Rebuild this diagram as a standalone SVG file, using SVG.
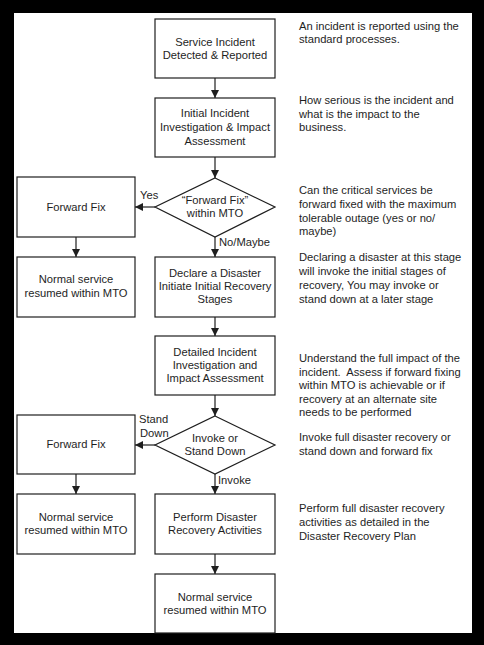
<svg xmlns="http://www.w3.org/2000/svg" width="484" height="645" viewBox="0 0 484 645">
<style>
  .box { fill: #ffffff; stroke: #1e1e1e; stroke-width: 1.2; }
  .t { font-family: "Liberation Sans", Arial, sans-serif; font-size: 11.2px; fill: #1e1e1e; }
  .c { text-anchor: middle; }
  .conn line { stroke: #1e1e1e; stroke-width: 1.2; marker-end: url(#arr); }
</style>
<defs>
  <marker id="arr" markerUnits="userSpaceOnUse" markerWidth="9" markerHeight="8" refX="8" refY="4" orient="auto">
    <path d="M0,0 L8,4 L0,8 Z" fill="#1e1e1e"/>
  </marker>
</defs>
<rect x="0" y="0" width="484" height="645" fill="#000000"/>
<rect x="14" y="13" width="458" height="620" fill="#ffffff"/>

<g id="connectors" class="conn">
  <line x1="215" y1="78" x2="215" y2="98"/>
  <line x1="215" y1="157" x2="215" y2="178"/>
  <line x1="155" y1="207" x2="135" y2="207"/>
  <line x1="215" y1="237" x2="215" y2="257"/>
  <line x1="76" y1="237" x2="76" y2="257"/>
  <line x1="215" y1="317" x2="215" y2="336"/>
  <line x1="215" y1="395" x2="215" y2="416"/>
  <line x1="155" y1="445" x2="135" y2="445"/>
  <line x1="76" y1="474" x2="76" y2="494"/>
  <line x1="215" y1="474" x2="215" y2="494"/>
  <line x1="215" y1="554" x2="215" y2="574"/>
</g>

<g id="n1">
  <rect class="box" x="155" y="19" width="120" height="59"/>
  <text class="t c" x="215" y="45.7">Service Incident</text>
  <text class="t c" x="215" y="59">Detected &amp; Reported</text>
</g>
<g id="n2">
  <rect class="box" x="155" y="98" width="120" height="59"/>
  <text class="t c" x="215" y="117.3">Initial Incident</text>
  <text class="t c" x="215" y="131.3">Investigation &amp; Impact</text>
  <text class="t c" x="215" y="145.3">Assessment</text>
</g>
<g id="d1">
  <polygon class="box" points="215,178 275,207 215,237 155,207"/>
  <text class="t c" x="215" y="204">“Forward Fix”</text>
  <text class="t c" x="215" y="217.3">within MTO</text>
</g>
<g id="ff1">
  <rect class="box" x="17" y="177" width="118" height="60"/>
  <text class="t c" x="76" y="211">Forward Fix</text>
</g>
<g id="ns1">
  <rect class="box" x="17" y="257" width="118" height="60"/>
  <text class="t c" x="76" y="283.3">Normal service</text>
  <text class="t c" x="76" y="296.7">resumed within MTO</text>
</g>
<g id="n3">
  <rect class="box" x="155" y="257" width="120" height="60"/>
  <text class="t c" x="215" y="276.7">Declare a Disaster</text>
  <text class="t c" x="215" y="290">Initiate Initial Recovery</text>
  <text class="t c" x="215" y="303.3">Stages</text>
</g>
<g id="n4">
  <rect class="box" x="155" y="336" width="120" height="59"/>
  <text class="t c" x="215" y="355.7">Detailed Incident</text>
  <text class="t c" x="215" y="369">Investigation and</text>
  <text class="t c" x="215" y="382.3">Impact Assessment</text>
</g>
<g id="d2">
  <polygon class="box" points="215,416 275,445 215,474 155,445"/>
  <text class="t c" x="215" y="441.7">Invoke or</text>
  <text class="t c" x="215" y="455">Stand Down</text>
</g>
<g id="ff2">
  <rect class="box" x="17" y="415" width="118" height="59"/>
  <text class="t c" x="76" y="448.3">Forward Fix</text>
</g>
<g id="ns2">
  <rect class="box" x="17" y="494" width="118" height="60"/>
  <text class="t c" x="76" y="521.3">Normal service</text>
  <text class="t c" x="76" y="534.3">resumed within MTO</text>
</g>
<g id="n5">
  <rect class="box" x="155" y="494" width="120" height="60"/>
  <text class="t c" x="215" y="521.3">Perform Disaster</text>
  <text class="t c" x="215" y="534.3">Recovery Activities</text>
</g>
<g id="n6">
  <rect class="box" x="155" y="574" width="120" height="59"/>
  <text class="t c" x="215" y="600.7">Normal service</text>
  <text class="t c" x="215" y="614">resumed within MTO</text>
</g>

<g id="labels">
  <text class="t" x="140" y="199">Yes</text>
  <text class="t" x="219" y="245.7">No/Maybe</text>
  <text class="t" x="139" y="423.3">Stand</text>
  <text class="t" x="140" y="436.7">Down</text>
  <text class="t" x="218" y="484">Invoke</text>
</g>

<g id="notes">
  <text class="t" x="299" y="29.5">An incident is reported using the</text>
  <text class="t" x="299" y="43">standard processes.</text>

  <text class="t" x="299" y="104">How serious is the incident and</text>
  <text class="t" x="299" y="117.5">what is the impact to the</text>
  <text class="t" x="299" y="131">business.</text>

  <text class="t" x="299" y="194">Can the critical services be</text>
  <text class="t" x="299" y="207.8">forward fixed with the maximum</text>
  <text class="t" x="299" y="221.6">tolerable outage (yes or no/</text>
  <text class="t" x="299" y="235.4">maybe)</text>

  <text class="t" x="299" y="261">Declaring a disaster at this stage</text>
  <text class="t" x="299" y="275">will invoke the initial stages of</text>
  <text class="t" x="299" y="289">recovery, You may invoke or</text>
  <text class="t" x="299" y="302.5">stand down at a later stage</text>

  <text class="t" x="299" y="362">Understand the full impact of the</text>
  <text class="t" x="299" y="376">incident.&#160; Assess if forward fixing</text>
  <text class="t" x="299" y="389.3">within MTO is achievable or if</text>
  <text class="t" x="299" y="402.6">recovery at an alternate site</text>
  <text class="t" x="299" y="416">needs to be performed</text>

  <text class="t" x="299" y="441">Invoke full disaster recovery or</text>
  <text class="t" x="299" y="454.5">stand down and forward fix</text>

  <text class="t" x="299" y="512">Perform full disaster recovery</text>
  <text class="t" x="299" y="526">activities as detailed in the</text>
  <text class="t" x="299" y="539.5">Disaster Recovery Plan</text>
</g>
</svg>
